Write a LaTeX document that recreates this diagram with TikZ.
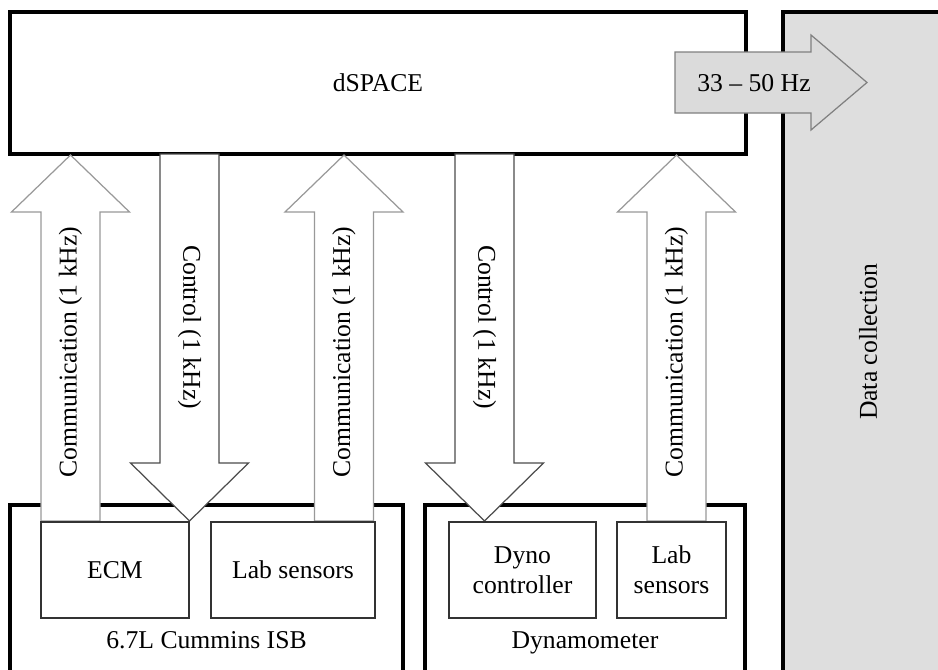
\documentclass[tikz,border=0pt]{standalone}
\usepackage{fontspec}
\setmainfont{Liberation Serif}
\usepackage{tikz}

\tikzset{
  bigbox/.style={draw=black, line width=2.3pt},
  unitbox/.style={draw=black!80, line width=0.6pt, fill=white, align=center, inner sep=0pt},
  commarrow/.style={draw=black!40, line width=0.7pt, fill=white},
  ctrlarrow/.style={draw=black!70, line width=0.7pt, fill=white},
  ratearrow/.style={draw=black!50, line width=0.7pt, fill=black!14}
}

\begin{document}
\begin{tikzpicture}[x=0.02cm, y=-0.02cm, font=\fontsize{14.6}{17.2}\selectfont]
\clip (0,0) rectangle (938,670);

\begin{scope}
\node[bigbox, minimum width=14.72cm, minimum height=2.84cm] (dspace) at (378,83) {dSPACE};

\draw[bigbox, fill=black!13] (783,12) rectangle (980,720);
\node[rotate=90] (data) at (868,342) {Data collection};

\draw[bigbox] (10,505) rectangle (403,720);
\draw[bigbox] (425,505) rectangle (745,720);
\node[anchor=base] (isb) at (206.5,648) {6.7L Cummins ISB};
\node[anchor=base] (dyno) at (585,648) {Dynamometer};
\end{scope}

\begin{scope}
\draw[commarrow] (41,521)--(41,212)--(11.5,212)--(70.5,155)--(129.5,212)--(100,212)--(100,521)--cycle;
\draw[ctrlarrow] (160,154)--(160,463)--(130.5,463)--(189.5,521)--(248.5,463)--(219,463)--(219,154)--cycle;
\draw[commarrow] (314.5,521)--(314.5,212)--(285,212)--(344,155)--(403,212)--(373.5,212)--(373.5,521)--cycle;
\draw[ctrlarrow] (455,154)--(455,463)--(425.5,463)--(484.5,521)--(543.5,463)--(514,463)--(514,154)--cycle;
\draw[commarrow] (647,521)--(647,212)--(617.5,212)--(676.5,155)--(735.5,212)--(706,212)--(706,521)--cycle;

\node[rotate=90] (commA) at (70.5,352) {Communication (1 kHz)};
\node[rotate=-90] (ctrlA) at (189.5,327) {Control (1 kHz)};
\node[rotate=90] (commB) at (344,352) {Communication (1 kHz)};
\node[rotate=-90] (ctrlB) at (484.5,327) {Control (1 kHz)};
\node[rotate=90] (commC) at (676.5,352) {Communication (1 kHz)};
\end{scope}

\begin{scope}
\node[unitbox, minimum width=2.96cm, minimum height=1.92cm] (ecm) at (115,570) {ECM};
\node[unitbox, minimum width=3.28cm, minimum height=1.92cm] (labA) at (293,570) {Lab sensors};
\node[unitbox, minimum width=2.94cm, minimum height=1.92cm] (dynoctl) at (522.5,570) {Dyno\\controller};
\node[unitbox, minimum width=2.18cm, minimum height=1.92cm] (labB) at (671.5,570) {Lab\\sensors};
\end{scope}

\draw[ratearrow] (675,52)--(811,52)--(811,35)--(867,82.5)--(811,130)--(811,113)--(675,113)--cycle;
\node (rate) at (754,83) {33 – 50 Hz};

\end{tikzpicture}
\end{document}
